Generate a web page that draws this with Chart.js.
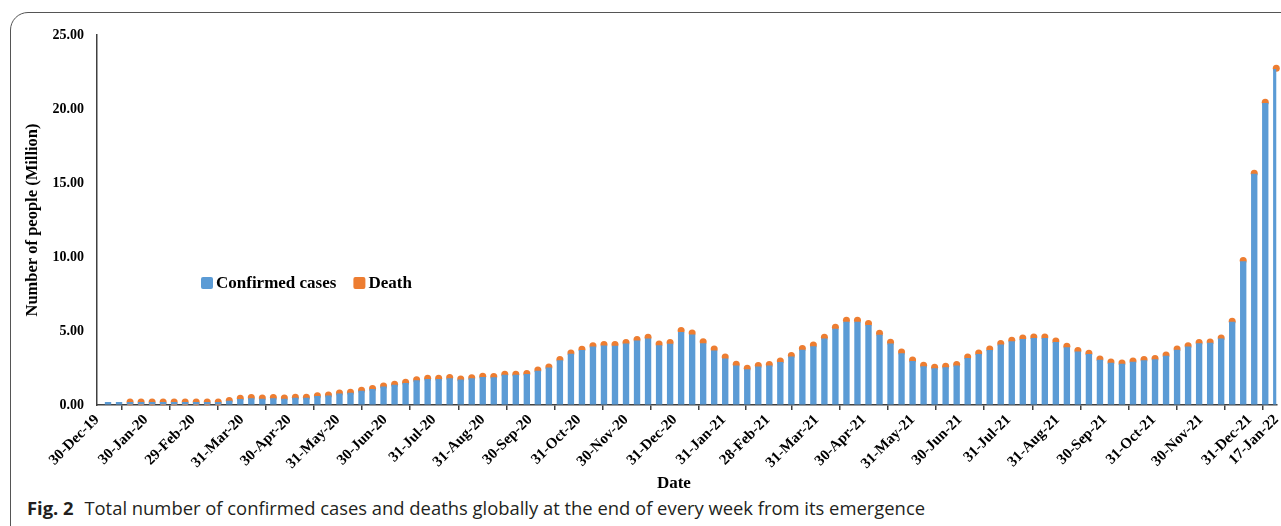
<!DOCTYPE html>
<html>
<head>
<meta charset="utf-8">
<script src="https://cdn.jsdelivr.net/npm/chart.js@4.4.1/dist/chart.umd.min.js"></script>
<style>
  html, body { margin: 0; padding: 0; background: #fff; overflow: hidden; }
  body { width: 1281px; height: 526px; position: relative; }
  #frame {
    position: absolute; left: 10px; top: 12px; width: 1400px; height: 700px;
    border: 1.5px solid #555; border-radius: 18px; box-sizing: border-box;
  }
  #wrap { position: absolute; left: 0; top: 0; width: 1290px; height: 495px; }
  #caption {
    position: absolute; left: 27px; top: 495px; white-space: nowrap;
    font-family: "Open Sans", "Noto Sans", sans-serif; font-size: 18.4px; color: #231f20;
  }
  #caption b { margin-right: 6px; }
</style>
</head>
<body>
<div id="frame"></div>
<div id="wrap"><canvas id="graficoCovid"></canvas></div>
<div id="caption"><b>Fig. 2</b> Total number of confirmed cases and deaths globally at the end of every week from its emergence</div>
<script>
// weekly totals in million (weeks 6-Jan-20 .. 17-Jan-22)
const confirmados = [
  0.002, 0.003, 0.005, 0.01, 0.02, 0.02, 0.02, 0.015, 0.015, 0.03, 0.02,
  0.28, 0.41, 0.45, 0.42, 0.46, 0.43, 0.49, 0.49, 0.60, 0.65, 0.78, 0.83, 0.96, 1.08,
  1.25, 1.37, 1.49, 1.67, 1.76, 1.76, 1.81, 1.72, 1.80, 1.90, 1.88, 2.04, 2.04, 2.09,
  2.32, 2.53, 3.03, 3.46, 3.71, 3.95, 4.02, 4.01, 4.15, 4.35, 4.49, 4.04, 4.14, 4.94,
  4.77, 4.18, 3.68, 3.15, 2.67, 2.41, 2.60, 2.67, 2.91, 3.27, 3.74, 3.97, 4.49, 5.16,
  5.63, 5.63, 5.41, 4.75, 4.16, 3.50, 2.97, 2.62, 2.49, 2.55, 2.67, 3.18, 3.45, 3.72,
  4.09, 4.30, 4.46, 4.52, 4.53, 4.26, 3.91, 3.62, 3.44, 3.06, 2.86, 2.79, 2.92, 3.02,
  3.09, 3.33, 3.73, 3.96, 4.17, 4.21, 4.49, 5.62, 9.72, 15.62, 20.40, 22.70
]

const mortes = [
  null, null, 0.0001, 0.0003, 0.0006, 0.0007, 0.0006, 0.0008, 0.001, 0.003, 0.006,
  0.02, 0.04, 0.05, 0.05, 0.045, 0.04, 0.035, 0.03,
  0.03, 0.03, 0.03, 0.03, 0.03, 0.035, 0.035, 0.035, 0.04, 0.04,
  0.04, 0.04, 0.04, 0.04, 0.04, 0.04, 0.04, 0.035, 0.035, 0.035,
  0.04, 0.04, 0.045, 0.05, 0.055, 0.06, 0.065, 0.07, 0.075, 0.075,
  0.08, 0.08, 0.08, 0.09, 0.095, 0.1, 0.1, 0.09, 0.08, 0.07,
  0.065, 0.065, 0.065, 0.07, 0.075, 0.08, 0.085, 0.09, 0.095, 0.095,
  0.095, 0.09, 0.085, 0.08, 0.07, 0.065, 0.06, 0.06, 0.06, 0.06,
  0.06, 0.065, 0.065, 0.07, 0.07, 0.07, 0.065, 0.065, 0.06, 0.06,
  0.055, 0.05, 0.05, 0.05, 0.05, 0.05, 0.05, 0.05, 0.05, 0.05,
  0.05, 0.05, 0.045, 0.045, 0.045, 0.045, 0.05, 0.05
]

// days counted from 30-Dec-19, one bar per week
const semanas = confirmados.map((_, i) => 7 * (i + 1))

const diasTicks = [0, 31, 61, 92, 122, 153, 183, 214, 245, 275, 306, 336, 367, 398, 426,
  457, 487, 518, 548, 579, 610, 640, 671, 701, 732, 749]
const rotulosTicks = ['30-Dec-19', '30-Jan-20', '29-Feb-20', '31-Mar-20', '30-Apr-20',
  '31-May-20', '30-Jun-20', '31-Jul-20', '31-Aug-20', '30-Sep-20', '31-Oct-20',
  '30-Nov-20', '31-Dec-20', '31-Jan-21', '28-Feb-21', '31-Mar-21', '30-Apr-21',
  '31-May-21', '30-Jun-21', '31-Jul-21', '31-Aug-21', '30-Sep-21', '31-Oct-21',
  '30-Nov-21', '31-Dec-21', '17-Jan-22']

const serif = "'Times New Roman', 'Liberation Serif', serif"
const corEixo = '#404040'

const legendaDentro = {
  id: 'legendaDentro',
  afterDraw (chart, args, opts) {
    const { ctx, chartArea } = chart
    let x = chartArea.left + opts.x
    const y = chartArea.top + opts.y
    ctx.save()
    ctx.font = 'bold 17px ' + serif
    ctx.textBaseline = 'middle'
    chart.data.datasets.forEach((ds) => {
      ctx.fillStyle = ds.backgroundColor
      ctx.beginPath()
      ctx.roundRect(x, y - 6, 12, 12, 2)
      ctx.fill()
      ctx.fillStyle = '#000'
      ctx.fillText(ds.label, x + 15, y + 1)
      x += 15 + ctx.measureText(ds.label).width + 17
    })
    ctx.restore()
  }
}

const grafico = new Chart(document.getElementById('graficoCovid'), {
  type: 'bar',
  data: {
    datasets: [{
      label: 'Confirmed cases',
      data: semanas.map((d, i) => ({ x: d, y: confirmados[i] })),
      backgroundColor: '#5B9BD5',
      barPercentage: 0.72,
      categoryPercentage: 0.8,
      minBarLength: 3,
      stack: 'total'
    }, {
      type: 'line',
      label: 'Death',
      data: semanas.map((d, i) => ({ x: d, y: mortes[i] })),
      backgroundColor: '#ED7D31',
      borderColor: '#ED7D31',
      showLine: false,
      pointRadius: 3.5,
      pointBorderWidth: 0,
      pointHoverRadius: 3.5,
      stack: 'total',
      clip: false
    }]
  },
  options: {
    responsive: true,
    maintainAspectRatio: false,
    animation: false,
    layout: { padding: { left: 19, top: 35, right: 0, bottom: 0 } },
    plugins: {
      legend: { display: false },
      tooltip: { enabled: false },
      legendaDentro: { x: 104, y: 248 }
    },
    scales: {
      x: {
        type: 'linear',
        min: 0,
        max: 749,
        offset: false,
        afterFit: (scale) => { scale.height = 90 },
        afterBuildTicks: (scale) => {
          scale.ticks = diasTicks.map((v) => ({ value: v }))
        },
        ticks: {
          autoSkip: false,
          minRotation: 45,
          maxRotation: 45,
          padding: 1,
          color: '#000',
          font: { family: serif, size: 15, weight: 'bold' },
          callback: (v) => rotulosTicks[diasTicks.indexOf(v)]
        },
        grid: { drawOnChartArea: false, drawTicks: true, tickLength: 5, color: corEixo, lineWidth: 1.5 },
        border: { display: true, color: corEixo, width: 1.5 },
        title: {
          display: true,
          text: 'Date      ',
          color: '#000',
          font: { family: serif, size: 17, weight: 'bold' },
          padding: { top: 4, bottom: 1 }
        }
      },
      y: {
        stacked: true,
        min: 0,
        max: 25,
        afterFit: (scale) => { scale.width = 78 },
        ticks: {
          stepSize: 5,
          padding: 13,
          color: '#000',
          font: { family: serif, size: 14, weight: 'bold' },
          callback: (v) => v.toFixed(2)
        },
        grid: { drawOnChartArea: false, drawTicks: false },
        border: { display: true, color: corEixo, width: 1.5 },
        title: {
          display: true,
          text: 'Number of people (Million)',
          color: '#000',
          font: { family: serif, size: 16.5, weight: 'bold' },
          padding: { top: 4, bottom: 4 }
        }
      }
    }
  },
  plugins: [legendaDentro]
})
</script>
</body>
</html>
